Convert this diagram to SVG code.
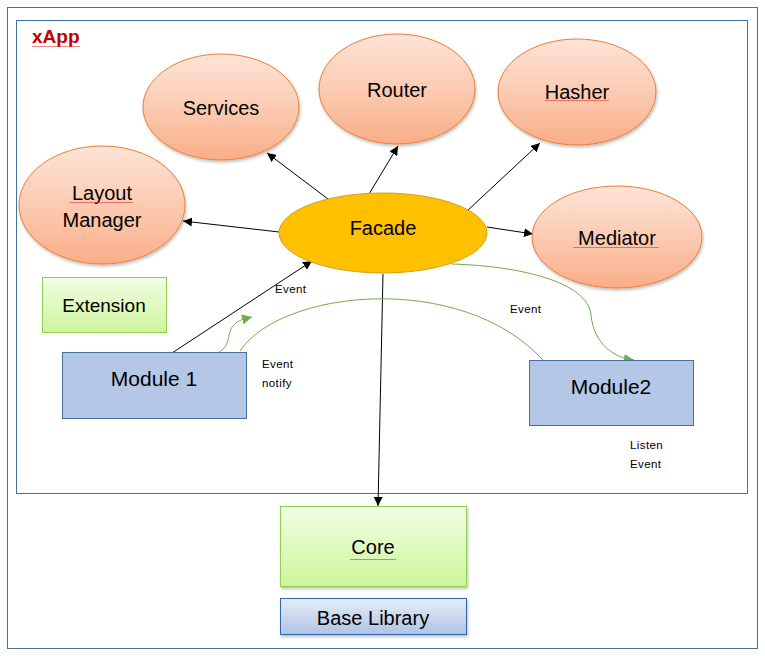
<svg xmlns="http://www.w3.org/2000/svg" width="765" height="656" viewBox="0 0 765 656">
<defs>
<linearGradient id="orange" x1="0" y1="0" x2="0" y2="1">
<stop offset="0" stop-color="#FDE4D8"/><stop offset="0.5" stop-color="#FCCBB2"/><stop offset="1" stop-color="#F9AE87"/>
</linearGradient>
<linearGradient id="green" x1="0" y1="0" x2="0" y2="1">
<stop offset="0" stop-color="#F3FDE6"/><stop offset="1" stop-color="#CCF59A"/>
</linearGradient>
<linearGradient id="blue" x1="0" y1="0" x2="0" y2="1">
<stop offset="0" stop-color="#E6EDF8"/><stop offset="1" stop-color="#AFC3E4"/>
</linearGradient>
<filter id="sh" x="-10%" y="-10%" width="130%" height="130%">
<feDropShadow dx="1" dy="2" stdDeviation="1.5" flood-color="#000" flood-opacity="0.25"/>
</filter>
<marker id="ab" viewBox="0 0 10 10" refX="10" refY="5" markerWidth="9" markerHeight="9" markerUnits="userSpaceOnUse" orient="auto">
<path d="M0,0 L10,5 L0,10 z" fill="#000"/>
</marker>
<marker id="ag" viewBox="0 0 10 10" refX="10" refY="5" markerWidth="10" markerHeight="10" markerUnits="userSpaceOnUse" orient="auto">
<path d="M0,0 L10,5 L0,10 z" fill="#70AD47"/>
</marker>
<pattern id="wave" width="4" height="3" patternUnits="userSpaceOnUse">
<path d="M0,2 L1,1 L2,2 L3,1 L4,2" fill="none" stroke="#E83030" stroke-width="0.6"/>
</pattern>
</defs>
<style>
.frame{fill:none;stroke:#41719C;stroke-width:1}
.oval{fill:url(#orange);stroke:#ED7D31;stroke-width:1;filter:url(#sh)}
.t{font-family:"Liberation Sans",Arial,sans-serif;fill:#000;text-anchor:middle}
.big{font-size:20px}
.small{font-family:"Liberation Sans",Arial,sans-serif;font-size:11.5px;letter-spacing:0.4px;fill:#000}
.ln{stroke:#000;stroke-width:1;fill:none}
.gr{stroke:#70AD47;stroke-width:1;fill:none}
.sq{fill:url(#wave)}
</style>
<rect x="0" y="0" width="765" height="656" fill="#fff"/>
<rect class="frame" x="7.5" y="7.5" width="750" height="641"/>
<rect class="frame" x="16.5" y="20.5" width="731" height="473"/>
<g id="xapp-label">
<text x="32" y="43" style="font-family:'Liberation Sans',Arial,sans-serif;font-size:19px;font-weight:bold;fill:#C00000">xApp</text>
<rect class="sq" x="32" y="45" width="48" height="3"/>
</g>
<g id="connectors">
<line class="ln" x1="328" y1="199" x2="267" y2="153" marker-end="url(#ab)"/>
<line class="ln" x1="369" y1="194" x2="398" y2="146" marker-end="url(#ab)"/>
<line class="ln" x1="467" y1="211" x2="540" y2="143" marker-end="url(#ab)"/>
<line class="ln" x1="279" y1="232" x2="183" y2="221" marker-end="url(#ab)"/>
<line class="ln" x1="487" y1="227" x2="533" y2="234" marker-end="url(#ab)"/>
<line class="ln" x1="172" y1="353" x2="312" y2="261" marker-end="url(#ab)"/>
<line class="ln" x1="383" y1="274" x2="378" y2="506" marker-end="url(#ab)"/>
<path class="gr" d="M219,352 C232,345 226,332 234,325 C238,320 244,319 252,317" marker-end="url(#ag)"/>
<path class="gr" d="M240,351 C280,290 460,270 543,360"/>
<path class="gr" d="M452,264 C520,266 588,282 591,315 C594,345 615,358 634,360" marker-end="url(#ag)"/>
<text class="small" x="275" y="293">Event</text>
<text class="small" x="510" y="313">Event</text>
<text class="small" x="262" y="368">Event</text>
<text class="small" x="262" y="387">notify</text>
<text class="small" x="630" y="449">Listen</text>
<text class="small" x="630" y="468">Event</text>
</g>
<g id="services">
<ellipse class="oval" cx="221" cy="107" rx="78" ry="53"/>
<text class="t big" x="221" y="115">Services</text>
</g>
<g id="router">
<ellipse class="oval" cx="397" cy="89" rx="78" ry="55"/>
<text class="t big" x="397" y="97">Router</text>
</g>
<g id="hasher">
<ellipse class="oval" cx="577" cy="92" rx="79" ry="53"/>
<text class="t big" x="577" y="99">Hasher</text>
<rect class="sq" x="545" y="100" width="64" height="3"/>
</g>
<g id="layout-manager">
<ellipse class="oval" cx="102" cy="205" rx="83" ry="59"/>
<text class="t big" x="102" y="200">Layout</text>
<text class="t big" x="102" y="227">Manager</text>
<rect class="sq" x="70" y="202" width="63" height="3"/>
</g>
<g id="mediator">
<ellipse class="oval" cx="617" cy="237" rx="85" ry="51"/>
<text class="t big" x="617" y="245">Mediator</text>
<rect class="sq" x="573" y="247" width="86" height="3"/>
</g>
<g id="facade">
<ellipse cx="383" cy="233" rx="104" ry="40" fill="#FFC000" stroke="#D4A017" stroke-width="1"/>
<text class="t big" x="383" y="235">Facade</text>
</g>
<g id="extension">
<rect x="42.5" y="277.5" width="124" height="55" fill="url(#green)" stroke="#92D050" stroke-width="1"/>
<text class="t" x="104" y="312" style="font-size:19px">Extension</text>
</g>
<g id="module1">
<rect x="62.5" y="352.5" width="184" height="66" fill="#B4C7E7" stroke="#41719C" stroke-width="1"/>
<text class="t" x="154" y="386" style="font-size:21px">Module 1</text>
</g>
<g id="module2">
<rect x="529.5" y="360.5" width="164" height="65" fill="#B4C7E7" stroke="#41719C" stroke-width="1"/>
<text class="t" x="611" y="394" style="font-size:21px">Module2</text>
</g>
<g id="core">
<rect x="280.5" y="506.5" width="186" height="80" fill="url(#green)" stroke="#92D050" stroke-width="1" filter="url(#sh)"/>
<text class="t big" x="373" y="554">Core</text>
<rect class="sq" x="350" y="557" width="46" height="3"/>
</g>
<g id="base-library">
<rect x="280.5" y="598.5" width="186" height="36" fill="url(#blue)" stroke="#2E6AA8" stroke-width="1" filter="url(#sh)"/>
<text class="t big" x="373" y="625">Base Library</text>
</g>
</svg>
